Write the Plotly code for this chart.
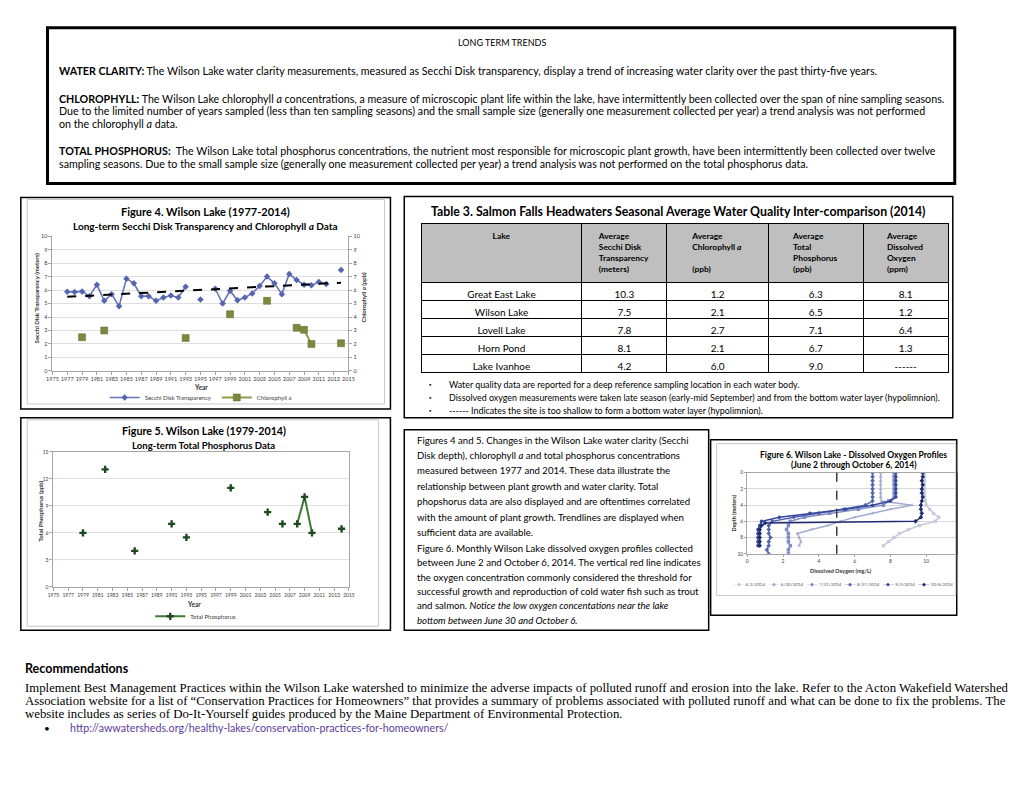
import plotly.graph_objects as go

W, H = 1024, 791
FONT = "Lato"
SERIF = "Liberation Serif"


def px(x):
    return x / W


def py(y):
    return 1 - y / H


# ---------------- Figure 4 data ----------------
secchi_years = [1977, 1978, 1979, 1980, 1981, 1982, 1983, 1984, 1985, 1986, 1987, 1988,
                1989, 1990, 1991, 1992, 1993, 1995, 1997, 1998, 1999, 2000, 2001, 2002,
                2003, 2004, 2005, 2006, 2007, 2008, 2009, 2010, 2011, 2012, 2014]
secchi_m = [5.88, 5.85, 5.9, 5.55, 6.4, 5.2, 5.7, 4.8, 6.85, 6.5, 5.55, 5.55,
            5.2, 5.45, 5.6, 5.45, 6.25, 5.3, 6.1, 5.0, 5.95, 5.25, 5.45, 5.75,
            6.3, 7.0, 6.5, 5.7, 7.2, 6.75, 6.4, 6.35, 6.6, 6.45, 7.5]
trend_years = [1977, 2014]
trend_m = [5.5, 6.55]
chl_years = [1979, 1982, 1993, 1999, 2004, 2008, 2009, 2010, 2014]
chl_ppb = [2.5, 3.0, 2.45, 4.2, 5.2, 3.2, 3.05, 2.0, 2.05]

# ---------------- Figure 5 data ----------------
tp_years = [1979, 1982, 1986, 1991, 1993, 1999, 2004, 2006, 2008, 2009, 2010, 2014]
tp_ppb = [6.0, 13.05, 4.0, 7.0, 5.5, 11.0, 8.3, 7.0, 7.0, 10.0, 6.0, 6.45]

# ---------------- Figure 6 data ----------------
do_dates = ["6/2/2014", "6/30/2014", "7/31/2014", "8/27/2014", "9/3/2014", "10/6/2014"]
do_colors = ["#c3c8da", "#a3acd0", "#7f8dc4", "#5364ad", "#34469b", "#1d2c70"]
do_symbols = ["x", "triangle-up", "square", "diamond", "circle", "diamond"]
depth_0602 = [0, 0.5, 1, 1.5, 2, 2.5, 3, 3.5, 4, 4.5, 5, 5.5, 6, 6.5, 7, 7.5, 8, 8.5, 9]
do_0602 = [9.9, 9.9, 9.9, 9.9, 9.9, 9.9, 9.9, 9.95, 10.0, 10.2, 10.4, 10.7, 10.5, 9.6, 9.0, 8.5, 8.2, 7.9, 7.6]
depth_0630 = [0, 0.5, 1, 1.5, 2, 2.5, 3, 3.5, 4, 4.5, 5, 5.5, 6, 6.5, 7, 7.5, 8, 8.5, 9]
do_0630 = [7.45, 7.45, 7.45, 7.45, 7.45, 7.45, 7.45, 7.5, 9.2, 8.0, 7.0, 6.0, 5.2, 4.5, 3.6, 2.8, 2.9, 3.0, 2.9]
depth_0731 = [0, 0.5, 1, 1.5, 2, 2.5, 3, 3.5, 4, 4.5, 5, 5.5, 6, 6.5, 7, 7.5, 8, 8.5, 9, 9.5, 10]
do_0731 = [8.2, 8.2, 8.2, 8.2, 8.2, 8.2, 8.2, 7.9, 7.6, 6.2, 4.6, 3.2, 2.4, 2.3, 2.2, 2.3, 2.3, 2.3, 2.4, 2.3, 2.3]
depth_0827 = [0, 0.5, 1, 1.5, 2, 2.5, 3, 3.5, 4, 4.5, 5, 5.5, 6, 6.5, 7, 7.5, 8, 8.5, 9, 9.5, 10]
do_0827 = [7.0, 7.0, 7.0, 7.0, 7.0, 7.0, 7.0, 7.0, 6.6, 5.4, 4.0, 2.6, 1.4, 1.2, 1.2, 1.2, 1.3, 1.2, 1.2, 1.1, 1.2]
depth_0903 = [0, 0.5, 1, 1.5, 2, 2.5, 3, 3.5, 4, 4.5, 5, 5.5, 6, 6.5, 7, 7.5, 8, 8.5, 9]
do_0903 = [8.3, 8.3, 8.3, 8.3, 8.3, 8.3, 8.3, 8.0, 7.0, 5.5, 3.5, 1.8, 0.8, 0.7, 0.6, 0.6, 0.6, 0.6, 0.6]
depth_1006 = [0, 0.5, 1, 1.5, 2, 2.5, 3, 3.5, 4, 4.5, 5, 5.5, 6, 6.2, 6.5, 7, 7.5, 8, 8.5, 9]
do_1006 = [9.8, 9.8, 9.75, 9.8, 9.75, 9.75, 9.8, 9.75, 9.7, 9.7, 9.75, 9.7, 9.4, 1.0, 0.8, 0.7, 0.7, 0.7, 0.7, 0.7]
do_threshold = 5.0

# ---------------- Table data ----------------
lakes = ["Great East Lake", "Wilson Lake", "Lovell Lake", "Horn Pond", "Lake Ivanhoe"]
tbl_secchi = [10.3, 7.5, 7.8, 8.1, 4.2]
tbl_chl = [1.2, 2.1, 2.7, 2.1, 6.0]
tbl_tp = [6.3, 6.5, 7.1, 6.7, 9.0]
tbl_do = [8.1, 1.2, 6.4, 1.3, None]


def with_gaps(xs, ys):
    ox, oy = [], []
    for i, (x, y) in enumerate(zip(xs, ys)):
        if i > 0 and x - xs[i - 1] > 1:
            ox.append(None)
            oy.append(None)
        ox.append(x)
        oy.append(y)
    return ox, oy


fig = go.Figure()

# Figure 4 traces
sx, sy = with_gaps(secchi_years, secchi_m)
fig.add_trace(go.Scatter(x=sx, y=sy, mode="lines+markers", name="Secchi Disk Transparency",
                         line=dict(color="#6773bb", width=1.6),
                         marker=dict(symbol="diamond", size=5, color="#5664b0"),
                         xaxis="x", yaxis="y", legend="legend"))
fig.add_trace(go.Scatter(x=trend_years, y=trend_m, mode="lines", showlegend=False,
                         line=dict(color="black", width=2, dash="dash"),
                         xaxis="x", yaxis="y"))
cx, cy = with_gaps(chl_years, chl_ppb)
fig.add_trace(go.Scatter(x=cx, y=cy, mode="lines+markers", name="Chlorophyll a",
                         line=dict(color="#8d9c4c", width=2),
                         marker=dict(symbol="square", size=7, color="#7a893c",
                                     line=dict(color="#5f6c2c", width=0.5)),
                         xaxis="x", yaxis="y2", legend="legend"))

# Figure 5 trace
tx, ty = with_gaps(tp_years, tp_ppb)
fig.add_trace(go.Scatter(x=tx, y=ty, mode="lines+markers", name="Total Phosphorus",
                         line=dict(color="#3d7a34", width=2),
                         marker=dict(symbol="cross", size=6, color="#1f4a1f"),
                         xaxis="x2", yaxis="y3", legend="legend2"))

# Figure 6 traces
profiles = [(depth_0602, do_0602), (depth_0630, do_0630), (depth_0731, do_0731),
            (depth_0827, do_0827), (depth_0903, do_0903), (depth_1006, do_1006)]
for (dep, dov), name, col, sym in zip(profiles, do_dates, do_colors, do_symbols):
    fig.add_trace(go.Scatter(x=dov, y=dep, mode="lines+markers", name=name, showlegend=False,
                             line=dict(color=col, width=1.5),
                             marker=dict(symbol=sym, size=3.5, color=col),
                             xaxis="x3", yaxis="y4"))

# Table
fig.add_trace(go.Table(
    domain=dict(x=[px(420), px(954)], y=[py(384), py(222)]),
    columnwidth=[163, 86, 103, 96, 86],
    header=dict(values=["<b>Lake</b>",
                        "<b>Average<br>Secchi Disk<br>Transparency<br>(meters)</b>",
                        "<b>Average<br>Chlorophyll <i>a</i><br> <br>(ppb)</b>",
                        "<b>Average<br>Total<br>Phosphorus<br>(ppb)</b>",
                        "<b>Average<br>Dissolved<br>Oxygen<br>(ppm)</b>"],
                fill_color="#bfbfbf", line=dict(color="black", width=1), align="center",
                font=dict(family=FONT, size=8.4, color="black"), height=56),
    cells=dict(values=[lakes,
                       [f"{v:.1f}" for v in tbl_secchi],
                       [f"{v:.1f}" for v in tbl_chl],
                       [f"{v:.1f}" for v in tbl_tp],
                       [("------" if v is None else f"{v:.1f}") for v in tbl_do]],
               fill_color="white", line=dict(color="black", width=1), align="center",
               font=dict(family=FONT, size=10, color="black"), height=18)))

tickf = dict(family=FONT, size=5.5, color="#404040")
axcol = "#a6a6a6"
fig.update_layout(
    width=W, height=H, margin=dict(l=0, r=0, t=0, b=0),
    paper_bgcolor="white", plot_bgcolor="rgba(0,0,0,0)",
    font=dict(family=FONT, color="black"),
    xaxis=dict(domain=[px(47), px(346.5)], range=[1975, 2015], tick0=1975, dtick=2, anchor="y",
               showgrid=False, zeroline=False, showline=True, linecolor=axcol, ticks="outside",
               ticklen=3, tickcolor=axcol, tickfont=tickf),
    yaxis=dict(domain=[py(370.7), py(235)], range=[0, 10], dtick=1, anchor="x",
               showgrid=True, gridcolor="#dedede", gridwidth=0.6, zeroline=False, showline=True,
               linecolor=axcol, ticks="outside", ticklen=3, tickcolor=axcol, tickfont=tickf),
    yaxis2=dict(overlaying="y", side="right", anchor="x", range=[0, 10], dtick=1,
                showgrid=False, zeroline=False, showline=True, linecolor=axcol, ticks="outside",
                ticklen=3, tickcolor=axcol, tickfont=tickf),
    xaxis2=dict(domain=[px(48), px(347)], range=[1975, 2015], tick0=1975, dtick=2, anchor="y3",
                showgrid=False, zeroline=False, showline=True, mirror=True, linecolor=axcol,
                ticks="outside", ticklen=3, tickcolor=axcol, tickfont=dict(family=FONT, size=5, color="#404040")),
    yaxis3=dict(domain=[py(588.3), py(452.3)], range=[0, 15], dtick=3, anchor="x2",
                showgrid=True, gridcolor="#e2e2e2", gridwidth=0.6, zeroline=False, showline=True,
                mirror=True, linecolor=axcol, ticks="outside", ticklen=3, tickcolor=axcol,
                tickfont=dict(family=FONT, size=5, color="#404040")),
    xaxis3=dict(domain=[px(750), px(962)], range=[0, 11.7], dtick=2, anchor="y4",
                showgrid=False, zeroline=False, showline=True, mirror=True, linecolor=axcol,
                ticks="outside", ticklen=2, tickcolor=axcol,
                tickfont=dict(family=FONT, size=5, color="#404040")),
    yaxis4=dict(domain=[py(555), py(473.3)], range=[10, 0], dtick=2, anchor="x3",
                showgrid=True, gridcolor="#d9d9d9", gridwidth=0.6, zeroline=False, showline=True,
                mirror=True, linecolor=axcol, ticks="outside", ticklen=2, tickcolor=axcol,
                tickfont=dict(family=FONT, size=5, color="#404040")),
    legend=dict(x=px(197), y=py(397.5), xanchor="center", yanchor="middle", orientation="h",
                font=dict(family=FONT, size=6, color="#404040"), bgcolor="rgba(0,0,0,0)",
                itemwidth=30),
    legend2=dict(x=px(192), y=py(618), xanchor="center", yanchor="middle", orientation="h",
                 font=dict(family=FONT, size=6, color="#404040"), bgcolor="rgba(0,0,0,0)",
                 itemwidth=30),
    showlegend=True,
)

# threshold line in Figure 6
fig.add_shape(type="line", xref="x3", yref="y4 domain", x0=do_threshold, x1=do_threshold,
              y0=0, y1=1, line=dict(color="#3a3a3a", width=1.5, dash="dash"))


def box(x0, y0, x1, y1, color="black", width=2):
    fig.add_shape(type="rect", xref="paper", yref="paper", x0=px(x0), x1=px(x1),
                  y0=py(y1), y1=py(y0), line=dict(color=color, width=width),
                  fillcolor="rgba(0,0,0,0)", layer="above")


box(42, 25, 960, 182, width=3)
box(15, 196, 389, 409, width=1.5)
box(21.5, 198, 383, 404, color="#c8c8c8", width=1)
box(403, 195, 958, 418, width=1.5)
box(15, 418, 389, 632, width=1.5)
box(21.5, 420, 377, 628, color="#c8c8c8", width=1)
box(403, 430, 711, 632, width=1.5)
box(713, 440, 962, 617, width=1.5)
box(719, 444, 961, 597, color="#c8c8c8", width=1)


def text(x, y, s, size, xanchor="left", color="black", family=FONT, angle=0):
    fig.add_annotation(x=px(x), y=py(y), xref="paper", yref="paper", text=s, showarrow=False,
                       xanchor=xanchor, yanchor="middle", align="left", textangle=angle,
                       font=dict(size=size, color=color, family=family), borderpad=0)


# Top text box
text(502, 40, "LONG TERM TRENDS", 9, xanchor="center")
top_lines = [
    (68, "<b>WATER CLARITY:</b> The Wilson Lake water clarity measurements, measured as Secchi Disk transparency, display a trend of increasing water clarity over the past thirty-five years."),
    (96, "<b>CHLOROPHYLL:</b> The Wilson Lake chlorophyll <i>a</i> concentrations, a measure of microscopic plant life within the lake, have intermittently been collected over the span of nine sampling seasons."),
    (108.5, "Due to the limited number of years sampled (less than ten sampling seasons) and the small sample size (generally one measurement collected per year) a trend analysis was not performed"),
    (121.5, "on the chlorophyll <i>a</i> data."),
    (149, "<b>TOTAL PHOSPHORUS:</b>  The Wilson Lake total phosphorus concentrations, the nutrient most responsible for microscopic plant growth, have been intermittently been collected over twelve"),
    (162, "sampling seasons. Due to the small sample size (generally one measurement collected per year) a trend analysis was not performed on the total phosphorus data."),
]
for y, s in top_lines:
    text(53, y, s, 10.7)

# Figure 4 labels
text(202, 210, "<b>Figure 4. Wilson Lake (1977-2014)</b>", 11, xanchor="center")
text(202, 224.5, "<b>Long-term Secchi Disk Transparency and Chlorophyll <i>a</i> Data</b>", 10, xanchor="center")
text(31, 297, "<b>Secchi Disk Transparency (meters)</b>", 6, xanchor="center", angle=-90, color="#333333")
text(362, 297, "<b>Chlorophyll <i>a</i> (ppb)</b>", 6, xanchor="center", angle=-90, color="#333333")
text(197, 387.5, "<b>Year</b>", 6.5, xanchor="center", color="#333333")

# Figure 5 labels
text(200, 431, "<b>Figure 5. Wilson Lake (1979-2014)</b>", 10.7, xanchor="center")
text(200, 445.5, "<b>Long-term Total Phosphorus Data</b>", 9.6, xanchor="center")
text(35, 512, "<b>Total Phosphorus (ppb)</b>", 6, xanchor="center", angle=-90, color="#333333")
text(190, 606.5, "<b>Year</b>", 6.5, xanchor="center", color="#333333")

# Table title and notes
text(680, 210, "<b>Table 3. Salmon Falls Headwaters Seasonal Average Water Quality Inter-comparison (2014)</b>", 12.3, xanchor="center")
notes = [
    (384.5, "Water quality data are reported for a deep reference sampling location in each water body."),
    (398, "Dissolved oxygen measurements were taken late season (early-mid September) and from the bottom water layer (hypolimnion)."),
    (411, "------ Indicates the site is too shallow to form a bottom water layer (hypolimnion)."),
]
for y, s in notes:
    text(427, y, "▪", 6)
    text(447, y, s, 8.9)

# Caption box
cap1 = ["Figures 4 and 5. Changes in the Wilson Lake water clarity (Secchi",
        "Disk depth), chlorophyll <i>a</i> and total phosphorus concentrations",
        "measured between 1977 and 2014. These data illustrate the",
        "relationship between plant growth and water clarity. Total",
        "phopshorus data are also displayed and are oftentimes correlated",
        "with the amount of plant growth. Trendlines are displayed when",
        "sufficient data are available."]
for i, s in enumerate(cap1):
    text(415, 440.5 + i * 15.5, s, 9.6)
cap2 = ["Figure 6. Monthly Wilson Lake dissolved oxygen profiles collected",
        "between June 2 and October 6, 2014. The vertical red line indicates",
        "the oxygen concentration commonly considered the threshold for",
        "successful growth and reproduction of cold water fish such as trout",
        "and salmon. <i>Notice the low oxygen concentations near the lake</i>",
        "<i>bottom between June 30 and October 6.</i>"]
for i, s in enumerate(cap2):
    text(415, 549.5 + i * 14.5, s, 9.6)

# Figure 6 labels
text(858, 455, "<b>Figure 6. Wilson Lake - Dissolved Oxygen Profiles</b>", 8.5, xanchor="center")
text(858, 466, "<b>(June 2 through October 6, 2014)</b>", 8.5, xanchor="center")
text(737, 514, "<b>Depth (meters)</b>", 5.5, xanchor="center", angle=-90, color="#333333")
text(845, 572, "<b>Dissolved Oxygen (mg/L)</b>", 5.5, xanchor="center", color="#333333")
leg6 = "   ".join(f"<span style='color:{c}'>—◆—</span> {d}" for d, c in zip(do_dates, do_colors))
text(847, 586, leg6, 4.5, xanchor="center", color="#595959")

# Recommendations
text(18, 671, "<b>Recommendations</b>", 12.5)
rec = ["Implement Best Management Practices within the Wilson Lake watershed to minimize the adverse impacts of polluted runoff and erosion into the lake. Refer to the Acton Wakefield Watershed",
       "Association website for a list of “Conservation Practices for Homeowners” that provides a summary of problems associated with polluted runoff and what can be done to fix the problems. The",
       "website includes as series of Do-It-Yourself guides produced by the Maine Department of Environmental Protection."]
for i, s in enumerate(rec):
    text(18, 690 + i * 13.3, s, 12.8, family=SERIF)
text(37, 730.5, "•", 10)
text(64, 730.5, "http://awwatersheds.org/healthy-lakes/conservation-practices-for-homeowners/", 10.7, color="#5b3d9c")

fig.write_html("out.html", config={"displayModeBar": False})
